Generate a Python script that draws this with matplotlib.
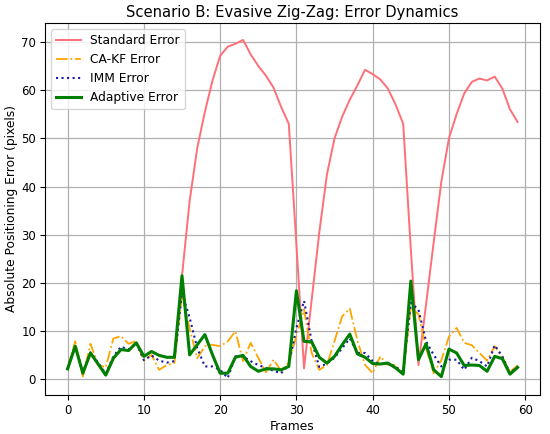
import numpy as np
import matplotlib.pyplot as plt

frames = np.arange(60)

# values
adaptive_err = [2.2, 6.9, 1.3, 5.5, 3.2, 0.9, 4.4, 6.2, 6.0, 7.6,
                4.8, 5.8, 5.0, 4.6, 4.6, 21.5, 5.1, 7.2, 9.3, 5.1,
                1.3, 1.3, 4.6, 5.0, 2.7, 1.7, 2.2, 2.2, 2.0, 2.7,
                18.4, 7.9, 7.8, 4.6, 3.4, 4.8, 7.2, 9.4, 5.3, 4.6,
                3.3, 3.2, 3.4, 2.4, 1.1, 20.4, 4.1, 7.4, 2.0, 0.6,
                6.3, 5.5, 2.9, 3.0, 2.9, 1.7, 4.8, 4.3, 1.1, 2.5]

standard_err = [2.2, 6.9, 1.3, 5.5, 3.2, 0.9, 4.4, 6.2, 6.0, 7.6,
                4.8, 5.8, 5.0, 4.6, 4.6, 21.5, 37.0, 48.0, 55.5, 62.0,
                67.1, 69.0, 69.6, 70.4, 67.4, 65.0, 63.0, 60.5, 56.5, 53.0,
                28.0, 2.3, 16.5, 30.5, 42.5, 50.0, 54.5, 58.0, 61.0, 64.2,
                63.3, 62.2, 60.3, 57.0, 53.0, 27.0, 3.0, 15.6, 28.5, 41.0,
                50.0, 55.0, 59.3, 61.7, 62.4, 62.0, 62.8, 60.3, 56.0, 53.4]

cakf_err = [2.3, 7.9, 0.6, 7.4, 3.0, 2.5, 8.5, 9.0, 7.4, 8.0,
            3.9, 5.1, 2.0, 3.0, 3.4, 17.5, 10.5, 4.4, 6.9, 7.2,
            6.9, 7.9, 10.0, 3.8, 7.6, 4.5, 1.5, 4.1, 1.8, 3.5,
            9.0, 14.5, 5.5, 2.0, 3.0, 8.0, 13.1, 14.7, 8.0, 3.0,
            1.3, 4.8, 3.0, 3.0, 1.3, 15.0, 13.5, 6.5, 1.3, 4.0,
            8.9, 10.7, 7.6, 7.1, 5.5, 3.9, 6.9, 4.5, 1.6, 2.9]

imm_err = [2.2, 7.0, 1.5, 5.6, 3.5, 1.2, 4.8, 6.8, 6.2, 7.5,
           4.0, 5.0, 3.9, 3.5, 3.8, 18.0, 12.8, 6.5, 2.7, 2.7,
           2.0, 0.3, 4.8, 4.8, 3.8, 3.0, 2.4, 1.8, 1.3, 3.0,
           10.7, 16.3, 7.9, 2.6, 3.3, 4.5, 6.5, 8.5, 5.5, 5.5,
           3.8, 3.2, 3.4, 2.6, 1.5, 15.9, 14.5, 7.9, 5.1, 2.7,
           4.1, 4.1, 2.0, 4.5, 3.8, 2.7, 7.1, 4.8, 1.3, 2.7]

fig, ax = plt.subplots(figsize=(5.5, 4.34), dpi=100)

ax.plot(frames, standard_err, color='#ff6f78', lw=1.4, label='Standard Error')
ax.plot(frames, cakf_err, color='orange', ls='-.', lw=1.3, label='CA-KF Error')
ax.plot(frames, imm_err, color='#1a1aa8', ls=':', lw=1.5, label='IMM Error')
ax.plot(frames, adaptive_err, color='green', lw=2.2, label='Adaptive Error')

ax.set_title('Scenario B: Evasive Zig-Zag: Error Dynamics', fontsize=10.6, pad=4)
ax.set_xlabel('Frames', fontsize=8.8, labelpad=2)
ax.set_ylabel('Absolute Positioning Error (pixels)', fontsize=8.8, labelpad=2)
ax.tick_params(labelsize=8.5, pad=3)
ax.grid(True, color='#b0b0b0', lw=0.9)
ax.legend(loc='upper left', fontsize=8.8)

plt.subplots_adjust(left=0.082, right=0.982, top=0.947, bottom=0.090)
plt.savefig('out.png')
